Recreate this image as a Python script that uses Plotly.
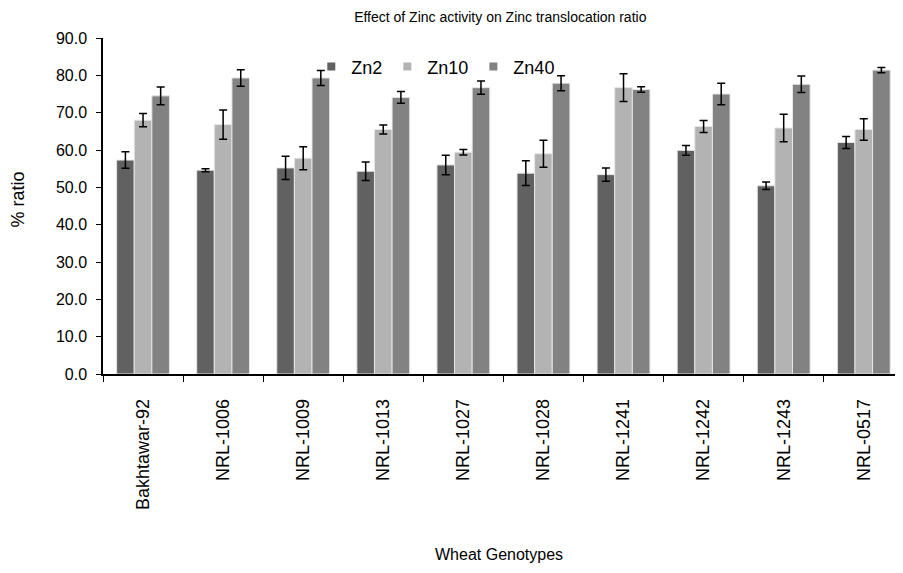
import plotly.graph_objects as go

genotypes = ["Bakhtawar-92", "NRL-1006", "NRL-1009", "NRL-1013", "NRL-1027",
             "NRL-1028", "NRL-1241", "NRL-1242", "NRL-1243", "NRL-0517"]
zn2 = [57.3, 54.6, 55.2, 54.3, 56.0, 53.8, 53.4, 59.9, 50.4, 62.0]
zn2_err = [2.2, 0.4, 3.1, 2.5, 2.6, 3.3, 1.8, 1.3, 1.0, 1.6]
zn10 = [68.0, 66.8, 57.8, 65.5, 59.4, 59.0, 76.7, 66.3, 65.9, 65.5]
zn10_err = [1.8, 3.9, 3.1, 1.2, 0.75, 3.6, 3.7, 1.6, 3.7, 2.9]
zn40 = [74.5, 79.3, 79.3, 74.1, 76.7, 77.9, 76.2, 75.0, 77.6, 81.4]
zn40_err = [2.4, 2.2, 2.0, 1.6, 1.8, 2.0, 0.75, 2.9, 2.2, 0.7]
y_ticks = [0, 10, 20, 30, 40, 50, 60, 70, 80, 90]

series = [("Zn2", zn2, zn2_err, "#616161"),
          ("Zn10", zn10, zn10_err, "#b3b3b3"),
          ("Zn40", zn40, zn40_err, "#828282")]

FONT = "Liberation Sans, Arial, sans-serif"

fig = go.Figure()
for name, vals, errs, col in series:
    fig.add_trace(go.Bar(
        name=name, x=genotypes, y=vals, showlegend=False,
        marker=dict(color=col, line=dict(color="#e6e6e6", width=1)),
        error_y=dict(type="data", array=errs, visible=True,
                     color="black", thickness=1.5, width=4),
    ))
# legend entries with small square swatches
for name, vals, errs, col in series:
    fig.add_trace(go.Scatter(
        name=name, x=[None], y=[None], mode="markers",
        marker=dict(symbol="square", size=8, color=col),
        showlegend=True,
    ))

fig.update_layout(
    width=887, height=557,
    barmode="group", bargap=0.34, bargroupgap=0,
    paper_bgcolor="white", plot_bgcolor="white",
    margin=dict(l=95, r=0, t=30, b=191),
    font=dict(family=FONT, color="black"),
    title=dict(text="Effect of Zinc activity on Zinc translocation ratio",
               x=0.555, xanchor="center", y=0.983, yanchor="middle",
               font=dict(size=14)),
    legend=dict(orientation="h", x=0.263, y=0.914, xanchor="left", yanchor="middle",
                font=dict(size=18), bgcolor="rgba(0,0,0,0)",
                itemwidth=30, traceorder="normal", tracegroupgap=0),
    xaxis=dict(
        range=[-0.5, 9.39],
        tickangle=-90, tickfont=dict(size=18), ticklabelstandoff=16,
        showline=True, linecolor="black", linewidth=1.5,
        ticks="outside", ticklen=6, tickcolor="black", tickson="boundaries",
        showgrid=False, automargin=False,
    ),
    yaxis=dict(
        range=[0, 90], tickvals=y_ticks, tickformat=".1f",
        tickfont=dict(size=16), ticklabelstandoff=6,
        showline=True, linecolor="black", linewidth=1.5,
        ticks="outside", ticklen=5, tickcolor="black",
        showgrid=False, zeroline=False, automargin=False,
    ),
    annotations=[
        dict(text="Wheat Genotypes", xref="paper", yref="paper",
             x=0.5, y=-0.537, xanchor="center", yanchor="middle", showarrow=False,
             font=dict(size=16, family="Liberation Sans Narrow, Arial Narrow, " + FONT)),
        dict(text="% ratio", xref="paper", yref="paper", textangle=-90,
             x=-0.107, y=0.52, xanchor="center", yanchor="middle", showarrow=False,
             font=dict(size=18)),
    ],
)

fig.write_html("out.html")
